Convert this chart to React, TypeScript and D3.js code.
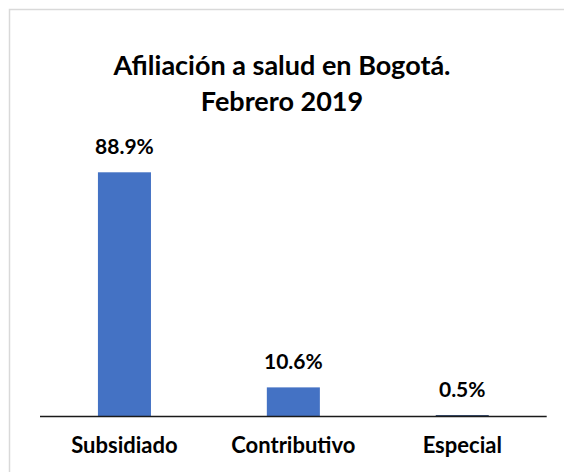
import React from 'react';
import * as d3 from 'd3';

const titleLines = ['Afiliación a salud en Bogotá.', 'Febrero 2019'];
const categories = ['Subsidiado', 'Contributivo', 'Especial'];
const values = [88.9, 10.6, 0.5];

const width = 564;
const height = 472;
const font = 'Lato, "Open Sans", sans-serif';

const App = () => {
    const x = d3.scaleBand()
        .domain(categories)
        .range([40, 546.7])
        .paddingInner(0.686)
        .paddingOuter(0.343);
    const y = d3.scaleLinear()
        .domain([0, 100])
        .range([416.5, 141.8]);

    return (
        <svg
            width={width}
            height={height}
            viewBox={`0,0,${width},${height}`}
            style={{ position: 'absolute', left: 0, top: 0, background: '#fff' }}
        >
            <rect x={9.5} y={9.5} width={620} height={520} fill="#fff" stroke="#d9d9d9" strokeWidth={1.5} />
            {titleLines.map((t, i) => (
                <text key={t} x={282} y={75 + i * 36} textAnchor="middle"
                    style={{ font: `bold 27px ${font}` }} fill="#000">{t}</text>
            ))}
            {categories.map((c, i) => (
                <g key={c}>
                    <rect
                        x={x(c)}
                        y={y(values[i])}
                        width={x.bandwidth()}
                        height={y(0) - y(values[i])}
                        fill={values[i] < 1 ? '#1f3864' : '#4472c4'}
                    />
                    <text x={x(c) + x.bandwidth() / 2} y={y(values[i]) - 18} textAnchor="middle"
                        style={{ font: `bold 21px ${font}` }} fill="#000">
                        {values[i].toFixed(1)}%
                    </text>
                    <text x={x(c) + x.bandwidth() / 2} y={453} textAnchor="middle"
                        style={{ font: `bold 22px ${font}` }} fill="#000">{c}</text>
                </g>
            ))}
            <line x1={x.range()[0]} x2={x.range()[1]} y1={y(0)} y2={y(0)} stroke="#1a1a1a" strokeWidth={1.5} />
        </svg>
    );
};

export default App;
